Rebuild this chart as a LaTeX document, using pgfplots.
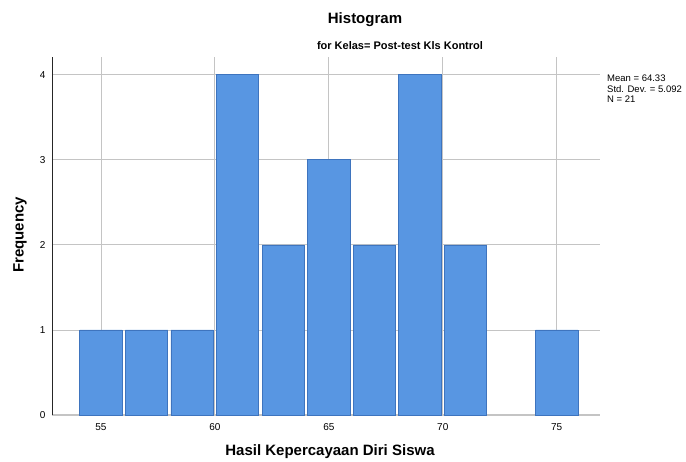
\documentclass[border=0pt]{standalone}
\usepackage{fontspec}
\setmainfont{Liberation Sans}
\usepackage{pgfplots}
\pgfplotsset{compat=1.18}
\definecolor{barfill}{HTML}{5896E2}
\definecolor{baredge}{HTML}{3E74BE}
\definecolor{gridc}{HTML}{C4C4C4}
\begin{document}
\begin{tikzpicture}[x=1pt,y=1pt]
\begin{axis}[
  scale only axis,
  width=548pt, height=358pt,
  xmin=52.85, xmax=76.9,
  ymin=0, ymax=4.21,
  axis x line*=bottom,
  axis y line*=left,
  x axis line style={gridc, line width=1.2pt, -},
  y axis line style={black!85, line width=1pt, -},
  xtick={55,60,65,70,75},
  ytick={0,1,2,3,4},
  major tick length=0pt,
  grid=major,
  major grid style={gridc, line width=0.9pt},
  ticklabel style={font=\fontsize{10}{12}\selectfont},
  /pgf/number format/assume math mode=true,
  xticklabel style={yshift=-5pt},
  yticklabel style={xshift=-3pt},
  axis on top=false,
  clip=false,
]
\addplot[ybar, bar width=1.86, fill=barfill, draw=baredge, line width=0.8pt]
  coordinates {(55,1) (57,1) (59,1) (61,4) (63,2) (65,3) (67,2) (69,4) (71,2) (75,1)};
\end{axis}
\path[use as bounding box] (-52,-47) rectangle (634,415);
\node[font=\fontsize{15}{18}\selectfont\bfseries] at (365-52,415-20) {Histogram};
\node[font=\fontsize{11}{13}\selectfont\bfseries] at (400-52,415-46) {for Kelas= Post-test Kls Kontrol};
\node[font=\fontsize{15}{18}\selectfont\bfseries, rotate=90] at (20-52,415-235) {Frequency};
\node[font=\fontsize{15}{18}\selectfont\bfseries] at (330-52,415-452) {Hasil Kepercayaan Diri Siswa};
\node[font=\fontsize{9.5}{10.5}\selectfont, anchor=north west, align=left, inner sep=0pt] at (607-52,415-75) {Mean = 64.33\\Std. Dev. = 5.092\\N = 21};
\end{tikzpicture}
\end{document}
